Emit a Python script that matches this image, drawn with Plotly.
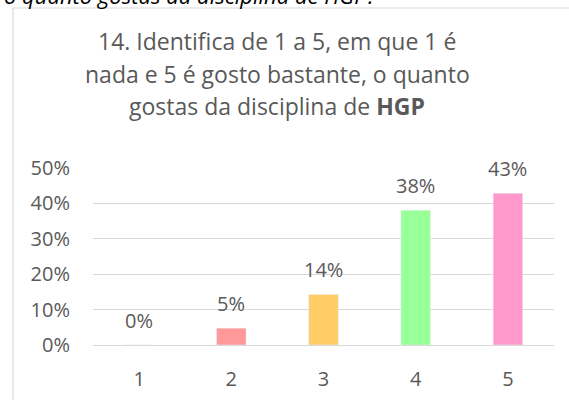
import plotly.graph_objects as go

categories = ["1", "2", "3", "4", "5"]
values = [0.0, 1/21, 3/21, 8/21, 9/21]
labels = ["0%", "5%", "14%", "38%", "43%"]
colors = ["#FF9999", "#FF9999", "#FFCC66", "#99FF99", "#FF99CC"]
y_ticks = [0, 0.1, 0.2, 0.3, 0.4, 0.5]
y_tick_labels = ["0%", "10%", "20%", "30%", "40%", "50%"]
title_lines = [
    "14. Identifica de 1 a 5, em que 1 é",
    "nada e 5 é gosto bastante, o quanto",
    "gostas da disciplina de <b>HGP</b>",
]
caption = "o quanto gostas da disciplina de HGP?"

W, H = 569, 400
L, R, T, B = 93, 554, 168, 345
FONT = "Open Sans"
GREY = "#595959"


def px(x):
    return (x - L) / (R - L)


def py(y):
    return (B - y) / (B - T)


fig = go.Figure()
fig.add_trace(go.Bar(
    x=categories, y=values, marker_color=colors, width=0.32,
    hoverinfo="skip", showlegend=False,
))

annotations = []
for i, (v, lab) in enumerate(zip(values, labels)):
    annotations.append(dict(
        x=i, y=v, xref="x", yref="y", text=lab, showarrow=False,
        yanchor="middle", yshift=25,
        font=dict(family=FONT, size=20, color=GREY),
    ))

title_baselines = [49, 82, 114]
for line, yb in zip(title_lines, title_baselines):
    annotations.append(dict(
        x=px(277), y=py(yb - 8), xref="paper", yref="paper", text=line,
        showarrow=False, xanchor="center", yanchor="middle",
        font=dict(family=FONT, size=23, color=GREY),
    ))

annotations.append(dict(
    x=px(2), y=py(-5), xref="paper", yref="paper", text="<i>" + caption + "</i>",
    showarrow=False, xanchor="left", yanchor="middle",
    font=dict(family=FONT, size=22, color="#000000"),
))

fig.update_layout(
    width=W, height=H,
    margin=dict(l=L, r=W - R, t=T, b=H - B, pad=0, autoexpand=False),
    paper_bgcolor="white", plot_bgcolor="white",
    annotations=annotations,
    shapes=[dict(
        type="rect", xref="paper", yref="paper",
        x0=px(13), x1=px(700), y0=py(600), y1=py(8),
        line=dict(color="#D9D9D9", width=1.2), fillcolor="rgba(0,0,0,0)",
        layer="above",
    )],
)
fig.update_xaxes(
    type="category", range=[-0.5, 4.5],
    showgrid=False, zeroline=False, showline=False,
    tickfont=dict(family=FONT, size=20, color=GREY),
    ticks="", ticklabelstandoff=20,
)
fig.update_yaxes(
    range=[0, 0.5], tickvals=y_ticks, ticktext=y_tick_labels,
    showgrid=True, gridcolor="#D9D9D9", gridwidth=1.2,
    zeroline=True, zerolinecolor="#D9D9D9", zerolinewidth=1.2,
    showline=False, ticks="", ticklabelstandoff=22,
    tickfont=dict(family=FONT, size=20, color=GREY),
)

fig.write_html(
    "out.html",
    config={"displayModeBar": False},
    post_script="document.body.style.margin='0';document.body.style.overflow='hidden';",
)
